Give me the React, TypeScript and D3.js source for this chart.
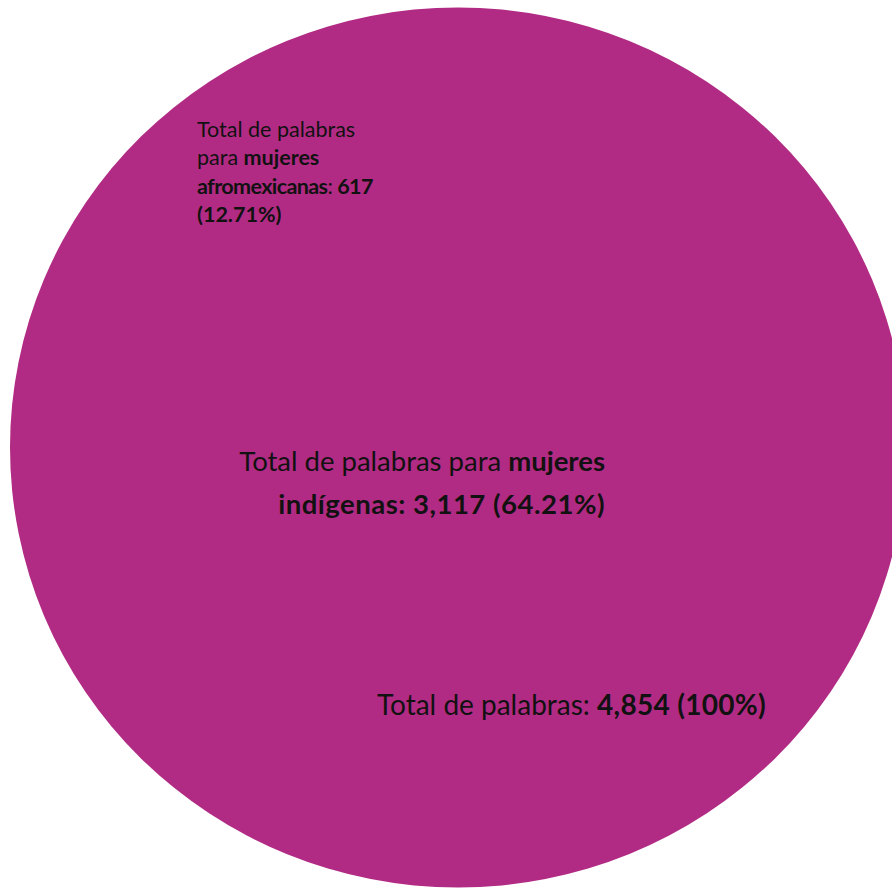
import * as React from "react";
import * as d3 from "d3";

// word counts
const groups = ["total", "indigenas", "afromexicanas"];
const counts = [4854, 3117, 617];
const shares = [100, 64.21, 12.71];

const WIDTH = 892;
const HEIGHT = 888;
const FILL = "#B12B84";
const INK = "#111111";

const fmtCount = d3.format(",");
const fmtShare = (v: number) => (v === 100 ? "100" : v.toFixed(2)) + "%";

export default function App() {
  const total = counts[0];
  // the bubble is drawn slightly wider than tall, as in the source image
  const rx = d3.scaleSqrt().domain([0, total]).range([0, 448]);
  const ry = d3.scaleSqrt().domain([0, total]).range([0, 440]);
  const cx = 458;
  const cy = 447.5;

  const iAfro = groups.indexOf("afromexicanas");
  const iInd = groups.indexOf("indigenas");

  return (
    <svg
      width={WIDTH}
      height={HEIGHT}
      style={{ position: "absolute", left: 0, top: 0, fontFamily: "Lato, 'Open Sans', sans-serif" }}
    >
      <ellipse cx={cx} cy={cy} rx={rx(total)} ry={ry(total)} fill={FILL} />

      {/* afromexicanas label */}
      <text x={197} y={137} fontSize={21.5} fill={INK}>
        <tspan x={197} dy={0}>Total de palabras</tspan>
        <tspan x={197} dy={28.3}>
          para <tspan fontWeight={700}>mujeres</tspan>
        </tspan>
        <tspan x={197} dy={28.3} letterSpacing={-0.6}>
          <tspan fontWeight={700}>afromexicanas</tspan>:{" "}
          <tspan fontWeight={700}>{fmtCount(counts[iAfro])}</tspan>
        </tspan>
        <tspan x={197} dy={28.3} fontWeight={700}>
          ({fmtShare(shares[iAfro])})
        </tspan>
      </text>

      {/* indígenas label */}
      <text x={605} y={471} fontSize={27.5} fill={INK} textAnchor="end">
        <tspan x={605} dy={0}>
          Total de palabras para <tspan fontWeight={700}>mujeres</tspan>
        </tspan>
        <tspan x={605} dy={42.6} fontWeight={700} letterSpacing={0.5}>
          indígenas: {fmtCount(counts[iInd])} ({fmtShare(shares[iInd])})
        </tspan>
      </text>

      {/* total label */}
      <text x={766} y={715} fontSize={28} fill={INK} textAnchor="end">
        Total de palabras:{" "}
        <tspan fontWeight={700} letterSpacing={0.3}>
          {fmtCount(total)} ({fmtShare(shares[0])})
        </tspan>
      </text>
    </svg>
  );
}
